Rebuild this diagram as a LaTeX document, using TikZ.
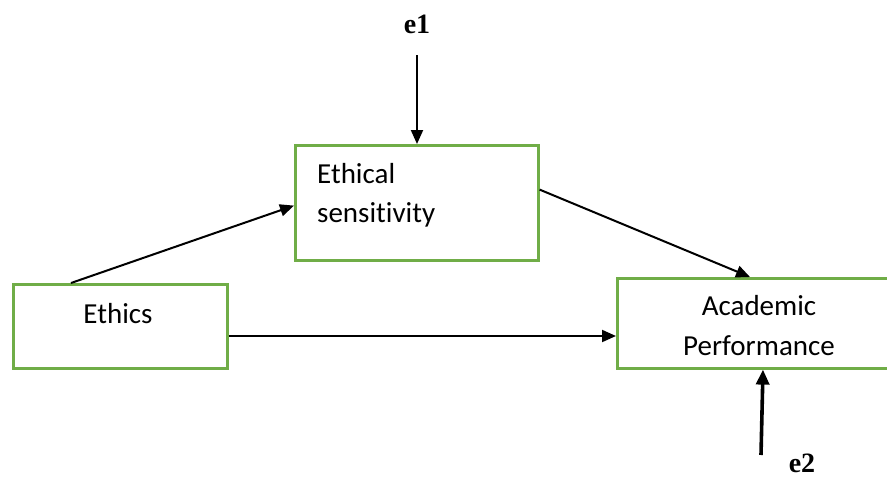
\documentclass[tikz,border=0pt]{standalone}
\usepackage{fontspec}
\setmainfont[Ligatures=NoCommon]{Carlito}
\newfontfamily\errfont{Liberation Serif}
\usetikzlibrary{arrows.meta}
\definecolor{boxgreen}{RGB}{112,173,71}
\begin{document}
\begin{tikzpicture}[x=1pt,y=-1pt,
  varbox/.style={draw=boxgreen,line width=2.6pt,inner sep=0pt,anchor=north west},
  lbl/.style={font=\fontsize{29}{35}\selectfont,inner sep=0pt,anchor=base},
  errlbl/.style={font=\errfont\bfseries\fontsize{28}{32}\selectfont,inner sep=0pt,anchor=base},
  arr/.style={line width=2pt,-{Triangle[length=14pt,width=12pt]}},
  thickarr/.style={line width=3.6pt,-{Triangle[length=15pt,width=13pt]}}]
\useasboundingbox (0,0) rectangle (887,477);
% boxes
\node[varbox,minimum width=243pt,minimum height=115pt] (es) at (294,144) {};
\node[varbox,minimum width=214pt,minimum height=84pt] (eth) at (12,283) {};
\node[varbox,minimum width=276pt,minimum height=90pt] (ap) at (616,277) {};
% texts
\node[lbl,anchor=base west] (esA) at (317,183) {Ethical};
\node[lbl,anchor=base west] (esB) at (317,222) {sensitivity};
\node[lbl] (ethT) at (118,323) {Ethics};
\node[lbl] (apA) at (759,315) {Academic};
\node[lbl] (apB) at (759,355) {Performance};
\node[errlbl] (e1) at (417,33) {e1};
\node[errlbl] (e2) at (802,472) {e2};
% connectors
\coordinate (e1s) at (417,55);
\coordinate (e2s) at (761,455);
\draw[arr] (e1s) -- (es.north -| e1s);
\draw[arr] ([xshift=59pt]eth.north west) -- ([yshift=56pt]es.south west);
\draw[arr] ([yshift=72pt]es.south east) -- ([xshift=134pt]ap.north west);
\draw[arr] (eth.east |- 0,336) -- (ap.west |- 0,336);
\draw[thickarr] (e2s) -- ([xshift=147pt]ap.south west);
\end{tikzpicture}
\end{document}
